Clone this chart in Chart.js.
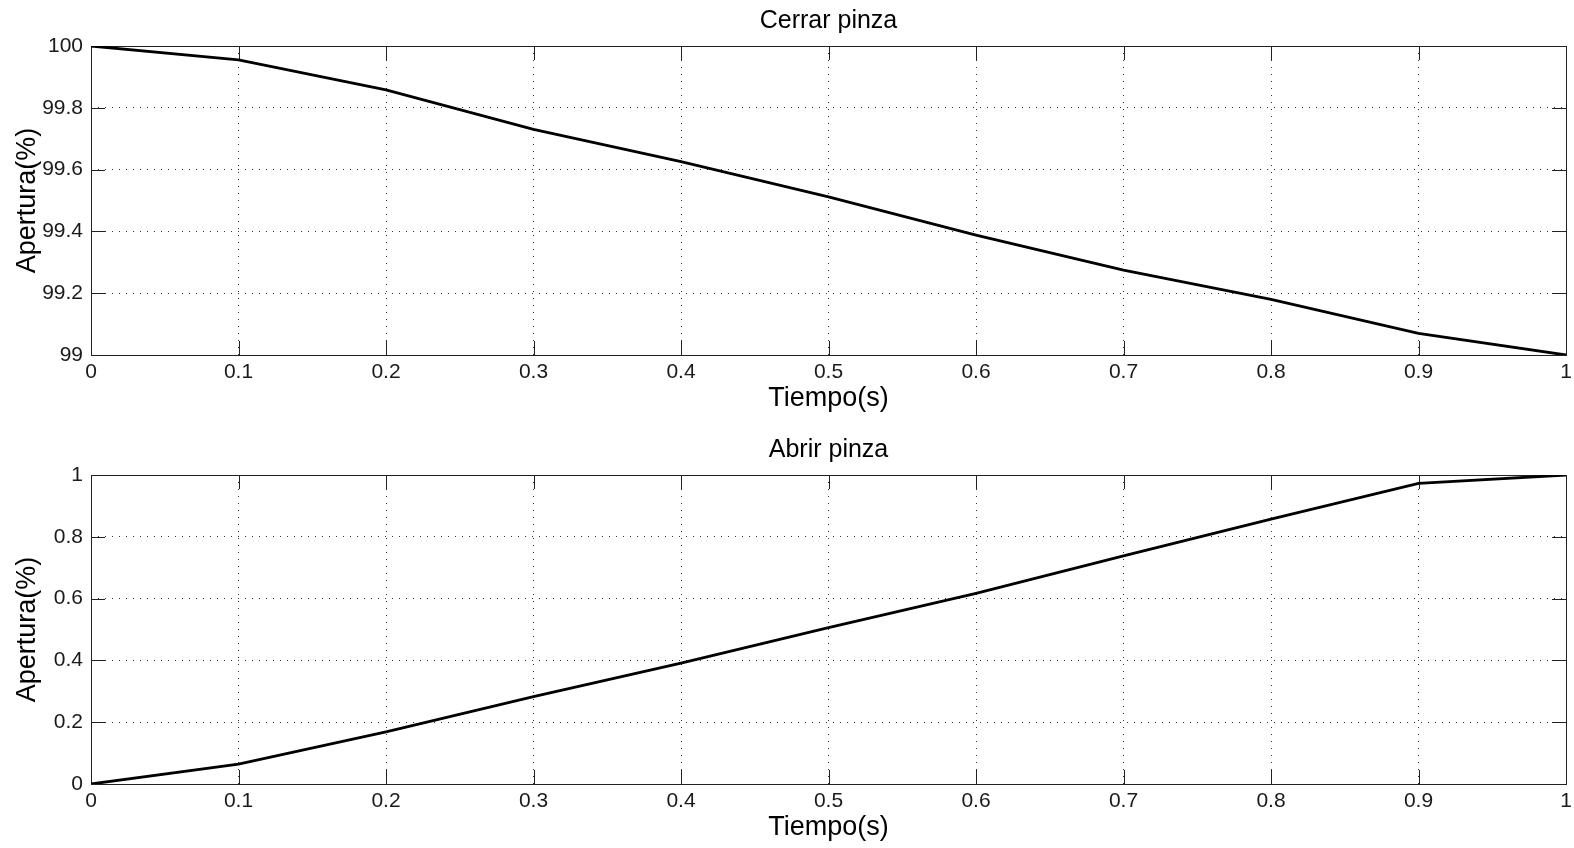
<!DOCTYPE html>
<html>
<head>
<meta charset="utf-8">
<title>Pinza</title>
<script src="https://cdn.jsdelivr.net/npm/chart.js@4.4.0/dist/chart.umd.min.js"></script>
<style>
  html, body { margin: 0; padding: 0; background: #fff; overflow: hidden; }
  .plot { position: absolute; left: 0; width: 1574px; height: 424px; }
</style>
</head>
<body>
<div class="plot" style="top:0px"><canvas id="cerrar" width="1574" height="424"></canvas></div>
<div class="plot" style="top:429px"><canvas id="abrir" width="1574" height="424"></canvas></div>

<script>
// time samples (s)
const tiempo = [0, 0.1, 0.2, 0.3, 0.4, 0.5, 0.6, 0.7, 0.8, 0.9, 1];

// gripper opening while closing / opening
const cerrarPinza = [100, 99.955, 99.858, 99.730, 99.626, 99.512, 99.388, 99.275, 99.180, 99.070, 99.0];
const abrirPinza = [0, 0.064, 0.169, 0.283, 0.391, 0.506, 0.617, 0.738, 0.857, 0.973, 1.0];

const xTicks = [0, 0.1, 0.2, 0.3, 0.4, 0.5, 0.6, 0.7, 0.8, 0.9, 1];
const xTickLabels = ["0", "0.1", "0.2", "0.3", "0.4", "0.5", "0.6", "0.7", "0.8", "0.9", "1"];
const yTicksCerrar = [99, 99.2, 99.4, 99.6, 99.8, 100];
const yLabelsCerrar = ["99", "99.2", "99.4", "99.6", "99.8", "100"];
const yTicksAbrir = [0, 0.2, 0.4, 0.6, 0.8, 1];
const yLabelsAbrir = ["0", "0.2", "0.4", "0.6", "0.8", "1"];

const TICK_FONT = { family: "'Liberation Sans Narrow', 'Liberation Sans', Arial, sans-serif", size: 21 };
const LABEL_FONT = { family: "'Liberation Sans', Arial, sans-serif", size: 27 };
const TITLE_FONT = { family: "'Liberation Sans', Arial, sans-serif", size: 25, weight: 'normal' };

// box around the axes plus the short inner tick marks on all four sides
const matlabBox = {
  id: 'matlabBox',
  beforeDatasetsDraw(chart) {
    const { ctx, chartArea: a, scales } = chart;
    const len = 14;
    ctx.save();
    ctx.strokeStyle = '#222';
    ctx.lineWidth = 1;
    ctx.beginPath();
    scales.x.ticks.forEach(t => {
      const px = Math.round(scales.x.getPixelForValue(t.value)) + 0.5;
      ctx.moveTo(px, a.bottom); ctx.lineTo(px, a.bottom - len);
      ctx.moveTo(px, a.top); ctx.lineTo(px, a.top + len);
    });
    scales.y.ticks.forEach(t => {
      const py = Math.round(scales.y.getPixelForValue(t.value)) + 0.5;
      ctx.moveTo(a.left, py); ctx.lineTo(a.left + len, py);
      ctx.moveTo(a.right, py); ctx.lineTo(a.right - len, py);
    });
    ctx.stroke();
    ctx.strokeRect(Math.round(a.left) + 0.5, Math.round(a.top) + 0.5,
      Math.round(a.right - a.left), Math.round(a.bottom - a.top));
    ctx.restore();
  }
};

function makeChart(id, titulo, valores, yTicks, yLabels) {
  const canvas = document.getElementById(id);
  return new Chart(canvas, {
    type: 'line',
    data: {
      datasets: [{
        data: tiempo.map((t, i) => ({ x: t, y: valores[i] })),
        borderColor: '#000',
        borderWidth: 2.8,
        pointRadius: 0,
        tension: 0,
        fill: false
      }]
    },
    options: {
      responsive: false,
      animation: false,
      devicePixelRatio: 1,
      layout: { padding: { left: 0, right: 8, top: 0, bottom: 0 } },
      plugins: {
        legend: { display: false },
        tooltip: { enabled: false },
        title: {
          display: true,
          text: titulo,
          fullSize: false,
          color: '#000',
          font: TITLE_FONT,
          padding: { top: 6, bottom: 10 }
        }
      },
      scales: {
        x: {
          type: 'linear',
          min: 0,
          max: 1,
          afterBuildTicks: s => { s.ticks = xTicks.map(v => ({ value: v })); },
          afterFit: s => { s.height = 69; s.paddingLeft = 0; s.paddingRight = 0; },
          grid: { color: '#333', lineWidth: 1, drawTicks: false },
          border: { display: false, dash: [1, 6] },
          ticks: {
            autoSkip: false, maxRotation: 0, padding: 5,
            color: '#1a1a1a', font: TICK_FONT,
            callback: (v, i) => xTickLabels[i]
          },
          title: {
            display: true, text: 'Tiempo(s)', color: '#000',
            font: LABEL_FONT, padding: { top: 0, bottom: 9 }
          }
        },
        y: {
          type: 'linear',
          min: yTicks[0],
          max: yTicks[yTicks.length - 1],
          afterBuildTicks: s => { s.ticks = yTicks.map(v => ({ value: v })); },
          afterFit: s => { s.width = 91; s.paddingTop = 0; s.paddingBottom = 0; },
          grid: { color: '#333', lineWidth: 1, drawTicks: false },
          border: { display: false, dash: [1, 6] },
          ticks: {
            autoSkip: false, padding: 8,
            color: '#1a1a1a', font: TICK_FONT,
            callback: (v, i) => yLabels[i]
          },
          title: {
            display: true, text: 'Apertura(%)', color: '#000',
            font: LABEL_FONT, padding: { top: 11, bottom: 0 }
          }
        }
      }
    },
    plugins: [matlabBox]
  });
}

makeChart('cerrar', 'Cerrar pinza', cerrarPinza, yTicksCerrar, yLabelsCerrar);
makeChart('abrir', 'Abrir pinza', abrirPinza, yTicksAbrir, yLabelsAbrir);
</script>
</body>
</html>
